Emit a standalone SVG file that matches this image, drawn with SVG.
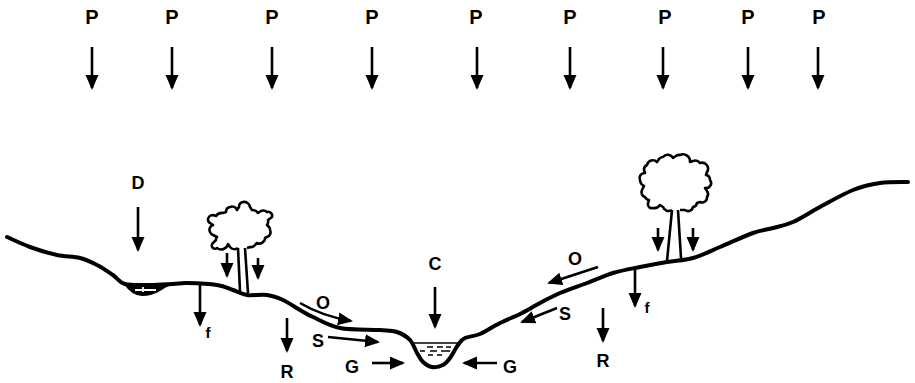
<svg xmlns="http://www.w3.org/2000/svg" width="915" height="383" viewBox="0 0 915 383">
  <style>
    .lbl { font-family: "Liberation Sans", Arial, sans-serif; font-weight: bold; font-size: 18px; fill: #000; text-anchor: middle; }
    .p { font-size: 20px; }
    .sm { font-size: 15px; }
    .arr { fill: none; stroke: #000; stroke-width: 2.6; marker-end: url(#head); }
    .ground { fill: none; stroke: #000; stroke-width: 4; stroke-linejoin: round; stroke-linecap: round; }
    .tree { fill: #fff; stroke: #000; stroke-width: 2.6; stroke-linejoin: round; }
    .trunk { fill: none; stroke: #000; stroke-width: 2.6; }
    .water { stroke: #000; stroke-width: 1.6; }
  </style>
  <defs>
    <marker id="head" markerUnits="userSpaceOnUse" markerWidth="16" markerHeight="14" refX="13" refY="6.5" orient="auto">
      <path d="M0,0 L15,6.5 L0,13 Z" fill="#000"/>
    </marker>
  </defs>
  <rect width="915" height="383" fill="#fff"/>

  <!-- precipitation -->
  <g id="precip">
    <g class="lbl p">
      <text x="92" y="24">P</text>
      <text x="172" y="24">P</text>
      <text x="272" y="24">P</text>
      <text x="372" y="24">P</text>
      <text x="476" y="24">P</text>
      <text x="570" y="24">P</text>
      <text x="665" y="24">P</text>
      <text x="748" y="24">P</text>
      <text x="819" y="24">P</text>
    </g>
  </g>

  <!-- land surface with depression and stream channel -->
  <g id="ground">
    <path class="ground" d="M7,237 C10.8,238.7 21.7,244 30,247 C38.3,250 48.7,253.2 57,255 C65.3,256.8 73.3,256.3 80,258 C86.7,259.7 91.5,262.2 97,265 C102.5,267.8 108.3,271.8 113,275 C117.7,278.2 118.8,282.3 125,284 C131.2,285.7 142,285 150,285 C158,285 166.8,284.3 173,284 C179.2,283.7 179.7,282.8 187,283 C194.3,283.2 209.3,283.8 217,285 C224.7,286.2 228,288.3 233,290 C238,291.7 241.3,294.2 247,295 C252.7,295.8 261,294.2 267,295 C273,295.8 277.5,297.5 283,300 C288.5,302.5 295,307.2 300,310 C305,312.8 306.3,314 313,317 C319.7,320 328.8,325.8 340,328 C351.2,330.2 370.5,329.3 380,330 C389.5,330.7 392,330.3 397,332 C402,333.7 406.7,336.5 410,340 C413.3,343.5 414.8,349.3 417,353 C419.2,356.7 420.5,359.7 423,362 C425.5,364.3 428.7,366.5 432,367 C435.3,367.5 440,366.5 443,365 C446,363.5 447.5,361.3 450,358 C452.5,354.7 455.5,348.3 458,345 C460.5,341.7 461.3,339.8 465,338 C468.7,336.2 474.2,336.5 480,334 C485.8,331.5 493.3,326.3 500,323 C506.7,319.7 513.3,317.3 520,314 C526.7,310.7 533.3,306.5 540,303 C546.7,299.5 552.2,296.3 560,293 C567.8,289.7 578.2,286.3 587,283 C595.8,279.7 604.2,275.7 613,273 C621.8,270.3 631,268.8 640,267 C649,265.2 658.2,263.5 667,262 C675.8,260.5 684.2,260.5 693,258 C701.8,255.5 710,251.2 720,247 C730,242.8 744.2,236.2 753,233 C761.8,229.8 766.3,229.8 773,228 C779.7,226.2 785.2,225.5 793,222 C800.8,218.5 810,212.3 820,207 C830,201.7 843,194 853,190 C863,186 870.8,184.3 880,183 C889.2,181.7 903.3,182.2 908,182"/>
  </g>

  <!-- depression storage pond -->
  <g id="pond">
    <path d="M123,283 Q132,296 142,296 Q152,296 160,291 Q167,286 175,284 Z" fill="#000"/>
    <path d="M135,290 L156,290 M143,287 L143,292" stroke="#fff" stroke-width="1.8"/>
  </g>

  <!-- stream channel water -->
  <g id="channel">
    <line class="water" x1="414" y1="343" x2="459" y2="343"/>
    <path class="water" d="M427,347 L433,347 M437,347 L443,347 M446,347 L451,347 M420,351 L425,351 M430,351 L437,351 M441,351 L450,351 M428,355 L433,355 M437,355 L442,355"/>
  </g>

  <!-- left tree -->
  <g id="tree-left">
    <path class="tree" d="M238,248 A6,6 0 0 1 230,247 L228,244 A7,7 0 0 1 217,248 A3,3 0 0 1 213,243 L216,240 A4,4 0 0 1 217,237 L213,235 A6,6 0 0 1 210,232 A5,5 0 0 1 213,225 L210,223 A4,4 0 0 1 208,220 A5,5 0 0 1 213,215 L216,216 A7,7 0 0 1 223,213 L226,212 A5,5 0 0 1 230,207 A5,5 0 0 1 237,210 L239,207 A5,5 0 0 1 243,202 A6,6 0 0 1 250,207 L252,210 A7,7 0 0 1 258,213 L261,211 A6,6 0 0 1 267,212 A4,4 0 0 1 272,217 L268,220 A6,6 0 0 1 267,225 L269,227 A4,4 0 0 1 270,230 A5,5 0 0 1 267,237 L265,238 A4,4 0 0 1 263,242 A5,5 0 0 1 257,243 L255,245 A5,5 0 0 1 250,247 L247,248"/>
    <path class="trunk" d="M238,248 L240,291 M245,248 L248,293"/>
    <path class="arr" d="M227,253 L227,276"/>
    <path class="arr" d="M258,258 L258,278"/>
  </g>

  <!-- right tree -->
  <g id="tree-right">
    <path class="tree" d="M672,210 A6,6 0 0 1 663,207 L660,205 A7,7 0 0 1 653,208 A4,4 0 0 1 648,203 L649,200 A5,5 0 0 1 645,197 A5,5 0 0 1 642,190 L644,186 A7,7 0 0 1 640,180 A5,5 0 0 1 645,173 L644,170 A5,5 0 0 1 647,165 A6,6 0 0 1 657,162 L659,159 A5,5 0 0 1 663,157 A6,6 0 0 1 673,158 L676,156 A5,5 0 0 1 680,155 A7,7 0 0 1 690,162 L693,161 A6,6 0 0 1 700,163 A6,6 0 0 1 707,172 L706,175 A5,5 0 0 1 710,180 A5,5 0 0 1 705,188 L707,191 A5,5 0 0 1 707,197 A5,5 0 0 1 700,202 L697,203 A5,5 0 0 1 693,207 A5,5 0 0 1 685,210 L680,210"/>
    <path class="trunk" d="M672,210 L667,261 M678,210 L681,258"/>
    <path class="arr" d="M658,228 L658,250"/>
    <path class="arr" d="M693,228 L693,250"/>
  </g>

  <!-- flux arrows -->
  <g id="connectors">
    <path class="arr" d="M92,47 L92,88"/>
    <path class="arr" d="M172,47 L172,88"/>
    <path class="arr" d="M272,47 L272,88"/>
    <path class="arr" d="M372,47 L372,88"/>
    <path class="arr" d="M477,47 L477,88"/>
    <path class="arr" d="M570,47 L570,88"/>
    <path class="arr" d="M663,47 L663,88"/>
    <path class="arr" d="M748,47 L748,88"/>
    <path class="arr" d="M818,47 L818,88"/>
    <path class="arr" d="M138,207 L138,250"/>
    <path class="arr" d="M200,285 L200,325"/>
    <path class="arr" d="M287,318 L287,351"/>
    <path class="arr" d="M300,303 Q322,316 351,321"/>
    <path class="arr" d="M328,337 L378,342"/>
    <path class="arr" d="M435,287 L435,327"/>
    <path class="arr" d="M372,363 L403,363"/>
    <path class="arr" d="M497,363 L464,363"/>
    <path class="arr" d="M598,267 L549,283"/>
    <path class="arr" d="M557,308 L522,322"/>
    <path class="arr" d="M603,308 L603,341"/>
    <path class="arr" d="M635,267 L635,306"/>
  </g>

  <!-- labels -->
  <g id="labels" class="lbl">
    <text x="138" y="189">D</text>
    <text x="435" y="270">C</text>
    <text x="323" y="309">O</text>
    <text x="318" y="347">S</text>
    <text x="352" y="373">G</text>
    <text x="510" y="373">G</text>
    <text x="287" y="378">R</text>
    <text class="sm" x="208" y="338">f</text>
    <text x="575" y="265">O</text>
    <text x="565" y="320">S</text>
    <text x="603" y="367">R</text>
    <text class="sm" x="647" y="313">f</text>
  </g>
</svg>
